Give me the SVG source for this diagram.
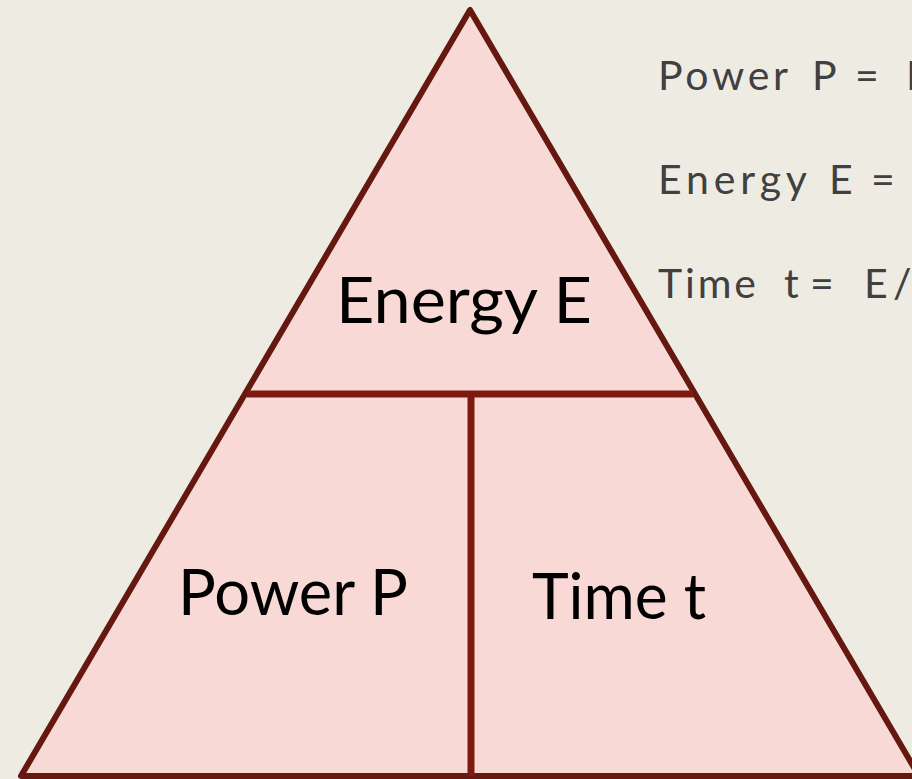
<svg xmlns="http://www.w3.org/2000/svg" width="912" height="779" viewBox="0 0 912 779">
<style>
.lbl{font-family:Lato,"Open Sans","DejaVu Sans",sans-serif;font-size:64px;fill:#000}
.eq{font-family:Lato,"Open Sans","DejaVu Sans",sans-serif;font-size:41px;fill:#404040}
</style>
<rect width="912" height="779" fill="#EEEBE3"/>
<g id="triangle">
<polygon points="470,10 21,776 919,776" fill="#F8D9D6" stroke="#65180F" stroke-width="6" stroke-linejoin="round"/>
</g>
<g id="connectors">
<line x1="247" y1="394" x2="693" y2="394" stroke="#7C1A10" stroke-width="7"/>
<line x1="471" y1="394" x2="471" y2="776" stroke="#7C1A10" stroke-width="7"/>
</g>
<g id="node-energy"><text class="lbl" x="336" y="323" textLength="256" lengthAdjust="spacingAndGlyphs">Energy E</text></g>
<g id="node-power"><text class="lbl" x="178" y="615" textLength="230" lengthAdjust="spacingAndGlyphs">Power P</text></g>
<g id="node-time"><text class="lbl" x="532" y="619" textLength="174" lengthAdjust="spacingAndGlyphs">Time t</text></g>
<g id="formulas">
<text class="eq" y="90"><tspan x="658" textLength="130" lengthAdjust="spacing">Power</tspan><tspan x="812">P</tspan><tspan x="855">=</tspan><tspan x="906">E</tspan></text>
<text class="eq" y="194"><tspan x="658" textLength="149" lengthAdjust="spacing">Energy</tspan><tspan x="829">E</tspan><tspan x="871">=</tspan></text>
<text class="eq" y="298"><tspan x="658" textLength="98" lengthAdjust="spacing">Time</tspan><tspan x="784">t</tspan><tspan x="810">=</tspan><tspan x="864">E</tspan><tspan x="893">/</tspan></text>
</g>
</svg>
